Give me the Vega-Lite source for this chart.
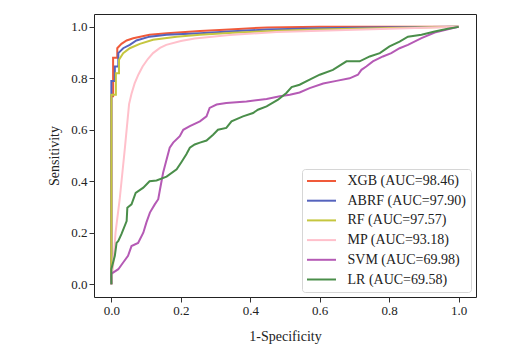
{
  "$schema": "https://vega.github.io/schema/vega-lite/v6.json",
  "autosize": "none",
  "width": 382,
  "height": 283,
  "padding": {"left": 94, "top": 14, "right": 54, "bottom": 54},
  "background": "white",
  "config": {
    "font": "Liberation Serif",
    "view": {"stroke": "#222222", "strokeWidth": 1},
    "axis": {
      "labelFont": "Liberation Serif",
      "titleFont": "Liberation Serif",
      "labelFontSize": 13,
      "titleFontSize": 14,
      "titleFontWeight": "normal",
      "labelColor": "#222222",
      "titleColor": "#222222",
      "grid": false,
      "domain": false,
      "tickColor": "#333333",
      "tickSize": 5,
      "labelPadding": 2
    },
    "legend": {
      "labelFont": "Liberation Serif",
      "labelFontSize": 14,
      "labelColor": "#222222"
    }
  },
  "data": {
    "values": [
      {"model": "XGB (AUC=98.46)", "fpr": 0, "tpr": 0},
      {"model": "XGB (AUC=98.46)", "fpr": 0, "tpr": 0.73},
      {"model": "XGB (AUC=98.46)", "fpr": 0.005, "tpr": 0.73},
      {"model": "XGB (AUC=98.46)", "fpr": 0.005, "tpr": 0.88},
      {"model": "XGB (AUC=98.46)", "fpr": 0.017, "tpr": 0.88},
      {"model": "XGB (AUC=98.46)", "fpr": 0.017, "tpr": 0.917},
      {"model": "XGB (AUC=98.46)", "fpr": 0.029, "tpr": 0.934},
      {"model": "XGB (AUC=98.46)", "fpr": 0.044, "tpr": 0.947},
      {"model": "XGB (AUC=98.46)", "fpr": 0.063, "tpr": 0.956},
      {"model": "XGB (AUC=98.46)", "fpr": 0.11, "tpr": 0.969},
      {"model": "XGB (AUC=98.46)", "fpr": 0.16, "tpr": 0.975},
      {"model": "XGB (AUC=98.46)", "fpr": 0.255, "tpr": 0.984},
      {"model": "XGB (AUC=98.46)", "fpr": 0.34, "tpr": 0.99},
      {"model": "XGB (AUC=98.46)", "fpr": 0.45, "tpr": 0.998},
      {"model": "XGB (AUC=98.46)", "fpr": 0.6, "tpr": 1.0},
      {"model": "XGB (AUC=98.46)", "fpr": 1.0, "tpr": 1.0},

      {"model": "ABRF (AUC=97.90)", "fpr": 0, "tpr": 0},
      {"model": "ABRF (AUC=97.90)", "fpr": 0, "tpr": 0.79},
      {"model": "ABRF (AUC=97.90)", "fpr": 0.01, "tpr": 0.79},
      {"model": "ABRF (AUC=97.90)", "fpr": 0.01, "tpr": 0.846},
      {"model": "ABRF (AUC=97.90)", "fpr": 0.02, "tpr": 0.846},
      {"model": "ABRF (AUC=97.90)", "fpr": 0.02, "tpr": 0.898},
      {"model": "ABRF (AUC=97.90)", "fpr": 0.034, "tpr": 0.917},
      {"model": "ABRF (AUC=97.90)", "fpr": 0.053, "tpr": 0.93},
      {"model": "ABRF (AUC=97.90)", "fpr": 0.072, "tpr": 0.947},
      {"model": "ABRF (AUC=97.90)", "fpr": 0.11, "tpr": 0.962},
      {"model": "ABRF (AUC=97.90)", "fpr": 0.159, "tpr": 0.969},
      {"model": "ABRF (AUC=97.90)", "fpr": 0.255, "tpr": 0.975},
      {"model": "ABRF (AUC=97.90)", "fpr": 0.35, "tpr": 0.983},
      {"model": "ABRF (AUC=97.90)", "fpr": 0.45, "tpr": 0.99},
      {"model": "ABRF (AUC=97.90)", "fpr": 0.6, "tpr": 0.995},
      {"model": "ABRF (AUC=97.90)", "fpr": 0.75, "tpr": 0.998},
      {"model": "ABRF (AUC=97.90)", "fpr": 1.0, "tpr": 1.0},

      {"model": "RF (AUC=97.57)", "fpr": 0, "tpr": 0},
      {"model": "RF (AUC=97.57)", "fpr": 0, "tpr": 0.736},
      {"model": "RF (AUC=97.57)", "fpr": 0.013, "tpr": 0.736},
      {"model": "RF (AUC=97.57)", "fpr": 0.013, "tpr": 0.82},
      {"model": "RF (AUC=97.57)", "fpr": 0.022, "tpr": 0.82},
      {"model": "RF (AUC=97.57)", "fpr": 0.022, "tpr": 0.872},
      {"model": "RF (AUC=97.57)", "fpr": 0.034, "tpr": 0.898},
      {"model": "RF (AUC=97.57)", "fpr": 0.053, "tpr": 0.917},
      {"model": "RF (AUC=97.57)", "fpr": 0.082, "tpr": 0.934},
      {"model": "RF (AUC=97.57)", "fpr": 0.12, "tpr": 0.95},
      {"model": "RF (AUC=97.57)", "fpr": 0.188, "tpr": 0.962},
      {"model": "RF (AUC=97.57)", "fpr": 0.255, "tpr": 0.969},
      {"model": "RF (AUC=97.57)", "fpr": 0.35, "tpr": 0.977},
      {"model": "RF (AUC=97.57)", "fpr": 0.48, "tpr": 0.985},
      {"model": "RF (AUC=97.57)", "fpr": 0.6, "tpr": 0.99},
      {"model": "RF (AUC=97.57)", "fpr": 0.8, "tpr": 0.996},
      {"model": "RF (AUC=97.57)", "fpr": 1.0, "tpr": 1.0},

      {"model": "MP (AUC=93.18)", "fpr": 0, "tpr": 0},
      {"model": "MP (AUC=93.18)", "fpr": 0.003, "tpr": 0.05},
      {"model": "MP (AUC=93.18)", "fpr": 0.005, "tpr": 0.07},
      {"model": "MP (AUC=93.18)", "fpr": 0.012, "tpr": 0.2},
      {"model": "MP (AUC=93.18)", "fpr": 0.024, "tpr": 0.33},
      {"model": "MP (AUC=93.18)", "fpr": 0.039, "tpr": 0.53},
      {"model": "MP (AUC=93.18)", "fpr": 0.051, "tpr": 0.7},
      {"model": "MP (AUC=93.18)", "fpr": 0.058, "tpr": 0.74},
      {"model": "MP (AUC=93.18)", "fpr": 0.067, "tpr": 0.78},
      {"model": "MP (AUC=93.18)", "fpr": 0.078, "tpr": 0.815},
      {"model": "MP (AUC=93.18)", "fpr": 0.09, "tpr": 0.846},
      {"model": "MP (AUC=93.18)", "fpr": 0.105, "tpr": 0.875},
      {"model": "MP (AUC=93.18)", "fpr": 0.12, "tpr": 0.898},
      {"model": "MP (AUC=93.18)", "fpr": 0.14, "tpr": 0.918},
      {"model": "MP (AUC=93.18)", "fpr": 0.158, "tpr": 0.93},
      {"model": "MP (AUC=93.18)", "fpr": 0.2, "tpr": 0.945},
      {"model": "MP (AUC=93.18)", "fpr": 0.24, "tpr": 0.955},
      {"model": "MP (AUC=93.18)", "fpr": 0.34, "tpr": 0.968},
      {"model": "MP (AUC=93.18)", "fpr": 0.476, "tpr": 0.98},
      {"model": "MP (AUC=93.18)", "fpr": 0.6, "tpr": 0.985},
      {"model": "MP (AUC=93.18)", "fpr": 0.8, "tpr": 0.993},
      {"model": "MP (AUC=93.18)", "fpr": 1.0, "tpr": 1.0},

      {"model": "SVM (AUC=69.98)", "fpr": 0, "tpr": 0},
      {"model": "SVM (AUC=69.98)", "fpr": 0, "tpr": 0.039},
      {"model": "SVM (AUC=69.98)", "fpr": 0.005, "tpr": 0.045},
      {"model": "SVM (AUC=69.98)", "fpr": 0.02, "tpr": 0.058},
      {"model": "SVM (AUC=69.98)", "fpr": 0.034, "tpr": 0.084},
      {"model": "SVM (AUC=69.98)", "fpr": 0.048, "tpr": 0.11},
      {"model": "SVM (AUC=69.98)", "fpr": 0.058, "tpr": 0.148},
      {"model": "SVM (AUC=69.98)", "fpr": 0.077, "tpr": 0.16},
      {"model": "SVM (AUC=69.98)", "fpr": 0.092, "tpr": 0.2},
      {"model": "SVM (AUC=69.98)", "fpr": 0.101, "tpr": 0.24},
      {"model": "SVM (AUC=69.98)", "fpr": 0.111, "tpr": 0.278},
      {"model": "SVM (AUC=69.98)", "fpr": 0.125, "tpr": 0.31},
      {"model": "SVM (AUC=69.98)", "fpr": 0.135, "tpr": 0.33},
      {"model": "SVM (AUC=69.98)", "fpr": 0.14, "tpr": 0.368},
      {"model": "SVM (AUC=69.98)", "fpr": 0.149, "tpr": 0.433},
      {"model": "SVM (AUC=69.98)", "fpr": 0.159, "tpr": 0.484},
      {"model": "SVM (AUC=69.98)", "fpr": 0.168, "tpr": 0.53},
      {"model": "SVM (AUC=69.98)", "fpr": 0.178, "tpr": 0.55},
      {"model": "SVM (AUC=69.98)", "fpr": 0.197, "tpr": 0.575},
      {"model": "SVM (AUC=69.98)", "fpr": 0.207, "tpr": 0.6},
      {"model": "SVM (AUC=69.98)", "fpr": 0.226, "tpr": 0.614},
      {"model": "SVM (AUC=69.98)", "fpr": 0.255, "tpr": 0.633},
      {"model": "SVM (AUC=69.98)", "fpr": 0.274, "tpr": 0.652},
      {"model": "SVM (AUC=69.98)", "fpr": 0.283, "tpr": 0.685},
      {"model": "SVM (AUC=69.98)", "fpr": 0.303, "tpr": 0.698},
      {"model": "SVM (AUC=69.98)", "fpr": 0.331, "tpr": 0.704},
      {"model": "SVM (AUC=69.98)", "fpr": 0.389, "tpr": 0.71},
      {"model": "SVM (AUC=69.98)", "fpr": 0.447, "tpr": 0.72},
      {"model": "SVM (AUC=69.98)", "fpr": 0.485, "tpr": 0.73},
      {"model": "SVM (AUC=69.98)", "fpr": 0.514, "tpr": 0.736},
      {"model": "SVM (AUC=69.98)", "fpr": 0.542, "tpr": 0.745},
      {"model": "SVM (AUC=69.98)", "fpr": 0.571, "tpr": 0.762},
      {"model": "SVM (AUC=69.98)", "fpr": 0.61, "tpr": 0.78},
      {"model": "SVM (AUC=69.98)", "fpr": 0.648, "tpr": 0.79},
      {"model": "SVM (AUC=69.98)", "fpr": 0.686, "tpr": 0.8},
      {"model": "SVM (AUC=69.98)", "fpr": 0.71, "tpr": 0.814},
      {"model": "SVM (AUC=69.98)", "fpr": 0.72, "tpr": 0.833},
      {"model": "SVM (AUC=69.98)", "fpr": 0.734, "tpr": 0.846},
      {"model": "SVM (AUC=69.98)", "fpr": 0.753, "tpr": 0.866},
      {"model": "SVM (AUC=69.98)", "fpr": 0.782, "tpr": 0.885},
      {"model": "SVM (AUC=69.98)", "fpr": 0.806, "tpr": 0.898},
      {"model": "SVM (AUC=69.98)", "fpr": 0.83, "tpr": 0.917},
      {"model": "SVM (AUC=69.98)", "fpr": 0.854, "tpr": 0.93},
      {"model": "SVM (AUC=69.98)", "fpr": 0.893, "tpr": 0.956},
      {"model": "SVM (AUC=69.98)", "fpr": 0.931, "tpr": 0.978},
      {"model": "SVM (AUC=69.98)", "fpr": 0.969, "tpr": 0.991},
      {"model": "SVM (AUC=69.98)", "fpr": 1.0, "tpr": 1.0},

      {"model": "LR (AUC=69.58)", "fpr": 0, "tpr": 0},
      {"model": "LR (AUC=69.58)", "fpr": 0, "tpr": 0.058},
      {"model": "LR (AUC=69.58)", "fpr": 0.01, "tpr": 0.11},
      {"model": "LR (AUC=69.58)", "fpr": 0.015, "tpr": 0.16},
      {"model": "LR (AUC=69.58)", "fpr": 0.02, "tpr": 0.168},
      {"model": "LR (AUC=69.58)", "fpr": 0.029, "tpr": 0.194},
      {"model": "LR (AUC=69.58)", "fpr": 0.044, "tpr": 0.245},
      {"model": "LR (AUC=69.58)", "fpr": 0.046, "tpr": 0.297},
      {"model": "LR (AUC=69.58)", "fpr": 0.058, "tpr": 0.31},
      {"model": "LR (AUC=69.58)", "fpr": 0.07, "tpr": 0.355},
      {"model": "LR (AUC=69.58)", "fpr": 0.092, "tpr": 0.375},
      {"model": "LR (AUC=69.58)", "fpr": 0.11, "tpr": 0.4},
      {"model": "LR (AUC=69.58)", "fpr": 0.13, "tpr": 0.403},
      {"model": "LR (AUC=69.58)", "fpr": 0.159, "tpr": 0.418},
      {"model": "LR (AUC=69.58)", "fpr": 0.188, "tpr": 0.446},
      {"model": "LR (AUC=69.58)", "fpr": 0.202, "tpr": 0.475},
      {"model": "LR (AUC=69.58)", "fpr": 0.216, "tpr": 0.505},
      {"model": "LR (AUC=69.58)", "fpr": 0.226, "tpr": 0.53},
      {"model": "LR (AUC=69.58)", "fpr": 0.24, "tpr": 0.543},
      {"model": "LR (AUC=69.58)", "fpr": 0.255, "tpr": 0.55},
      {"model": "LR (AUC=69.58)", "fpr": 0.274, "tpr": 0.558},
      {"model": "LR (AUC=69.58)", "fpr": 0.293, "tpr": 0.581},
      {"model": "LR (AUC=69.58)", "fpr": 0.307, "tpr": 0.6},
      {"model": "LR (AUC=69.58)", "fpr": 0.331, "tpr": 0.607},
      {"model": "LR (AUC=69.58)", "fpr": 0.346, "tpr": 0.633},
      {"model": "LR (AUC=69.58)", "fpr": 0.379, "tpr": 0.652},
      {"model": "LR (AUC=69.58)", "fpr": 0.408, "tpr": 0.665},
      {"model": "LR (AUC=69.58)", "fpr": 0.422, "tpr": 0.678},
      {"model": "LR (AUC=69.58)", "fpr": 0.447, "tpr": 0.691},
      {"model": "LR (AUC=69.58)", "fpr": 0.48, "tpr": 0.717},
      {"model": "LR (AUC=69.58)", "fpr": 0.504, "tpr": 0.743},
      {"model": "LR (AUC=69.58)", "fpr": 0.519, "tpr": 0.766},
      {"model": "LR (AUC=69.58)", "fpr": 0.542, "tpr": 0.775},
      {"model": "LR (AUC=69.58)", "fpr": 0.571, "tpr": 0.795},
      {"model": "LR (AUC=69.58)", "fpr": 0.6, "tpr": 0.814},
      {"model": "LR (AUC=69.58)", "fpr": 0.638, "tpr": 0.833},
      {"model": "LR (AUC=69.58)", "fpr": 0.677, "tpr": 0.866},
      {"model": "LR (AUC=69.58)", "fpr": 0.715, "tpr": 0.866},
      {"model": "LR (AUC=69.58)", "fpr": 0.744, "tpr": 0.885},
      {"model": "LR (AUC=69.58)", "fpr": 0.773, "tpr": 0.898},
      {"model": "LR (AUC=69.58)", "fpr": 0.801, "tpr": 0.924},
      {"model": "LR (AUC=69.58)", "fpr": 0.83, "tpr": 0.943},
      {"model": "LR (AUC=69.58)", "fpr": 0.854, "tpr": 0.962},
      {"model": "LR (AUC=69.58)", "fpr": 0.893, "tpr": 0.969},
      {"model": "LR (AUC=69.58)", "fpr": 0.931, "tpr": 0.982},
      {"model": "LR (AUC=69.58)", "fpr": 0.969, "tpr": 0.993},
      {"model": "LR (AUC=69.58)", "fpr": 1.0, "tpr": 1.0}
    ]
  },
  "mark": {"type": "line", "strokeWidth": 2, "clip": true},
  "encoding": {
    "x": {
      "field": "fpr",
      "type": "quantitative",
      "title": "1-Specificity",
      "scale": {"domain": [-0.05, 1.05], "nice": false, "zero": false},
      "axis": {"values": [0, 0.2, 0.4, 0.6, 0.8, 1.0], "format": ".1f", "titlePadding": 12}
    },
    "y": {
      "field": "tpr",
      "type": "quantitative",
      "title": "Sensitivity",
      "scale": {"domain": [-0.05, 1.05], "nice": false, "zero": false},
      "axis": {"values": [0, 0.2, 0.4, 0.6, 0.8, 1.0], "format": ".1f", "titlePadding": 9}
    },
    "color": {
      "field": "model",
      "type": "nominal",
      "scale": {
        "domain": ["XGB (AUC=98.46)", "ABRF (AUC=97.90)", "RF (AUC=97.57)", "MP (AUC=93.18)", "SVM (AUC=69.98)", "LR (AUC=69.58)"],
        "range": ["#f05a3a", "#5563bd", "#c5c63f", "#ffc0cb", "#b55ab5", "#4a8e4a"]
      },
      "legend": {
        "title": null,
        "orient": "none",
        "legendX": 208,
        "legendY": 155,
        "fillColor": "white",
        "strokeColor": "#d6d6d6",
        "cornerRadius": 3,
        "padding": 5,
        "rowPadding": 5.7,
        "symbolType": "M-2.9,0H2.9",
        "symbolSize": 100,
        "symbolStrokeWidth": 2,
        "symbolOffset": 7.5,
        "labelOffset": 19
      }
    },
    "order": {"value": null}
  }
}
